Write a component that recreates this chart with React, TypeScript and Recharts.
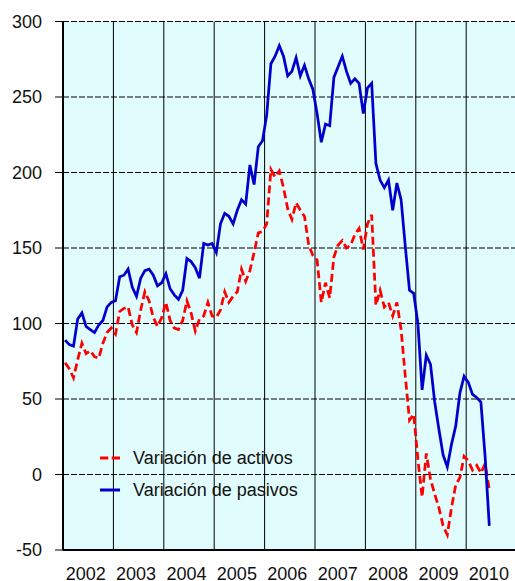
import React from 'react';
import {
  LineChart,
  Line,
  XAxis,
  YAxis,
  CartesianGrid,
  ReferenceLine,
  Legend,
} from 'recharts';

// monthly values, Jan 2002 .. Jun 2010
const activos = [
  74, 70, 64, 76, 87, 80, 82, 78, 77, 87, 94, 97,
  93, 108, 110, 111, 99, 94, 109, 121, 115, 104, 98, 104,
  114, 102, 97, 96, 102, 115, 107, 95, 103, 105, 114, 105,
  104, 109, 121, 114, 118, 121, 136, 128, 135, 147, 160, 161,
  166, 202, 197, 201, 190, 176, 169, 180, 175, 171, 152, 145,
  142, 114, 127, 117, 144, 152, 155, 150, 152, 159, 163, 149,
  166, 172, 112, 122, 111, 114, 105, 114, 96, 65, 36, 40,
  10, -15, 14, -3, -13, -22, -34, -40, -22, -7, -2, 12,
  9, 3, 6, 1, 7, -10,
];

const pasivos = [
  89, 86, 85, 103, 107, 98, 96, 94, 99, 102, 111, 114,
  115, 131, 132, 136, 124, 118, 130, 135, 136, 132, 125, 127,
  133, 123, 119, 116, 122, 143, 141, 137, 130, 153, 152, 153,
  147, 166, 173, 171, 166, 175, 182, 179, 205, 192, 217, 221,
  238, 272, 277, 284, 277, 264, 267, 276, 264, 271, 262, 255,
  239, 220, 232, 231, 263, 270, 277, 267, 259, 262, 259, 239,
  256, 259, 206, 195, 190, 195, 175, 193, 182, 151, 122, 120,
  100, 56, 79, 73, 48, 30, 13, 5, 20, 32, 54, 65,
  61, 53, 51, 48, 12, -34,
];

const years = ['2002', '2003', '2004', '2005', '2006', '2007', '2008', '2009', '2010'];
const yTicks = [-50, 0, 50, 100, 150, 200, 250, 300];

const series = [
  { key: 'activos', name: 'Variación de activos', color: '#ff0000', dash: '8 4' },
  { key: 'pasivos', name: 'Variación de pasivos', color: '#0000cc', dash: undefined },
];

const data = activos.map((a, i) => ({ m: i + 0.5, activos: a, pasivos: pasivos[i] }));
const yearStarts = years.slice(1).map((_, k) => (k + 1) * 12);
const yearTicks = years.map((_, k) => k * 12 + 5.4);

const FONT = '"Liberation Sans", Arial, sans-serif';

function LegendBox() {
  return (
    <div style={{ fontFamily: FONT, fontSize: 18, color: '#111' }}>
      {series.map((s) => (
        <div key={s.key} style={{ display: 'flex', alignItems: 'center', height: 32 }}>
          <svg width={20} height={6} style={{ display: 'block' }}>
            <line
              x1={0}
              y1={3}
              x2={20}
              y2={3}
              stroke={s.color}
              strokeWidth={3}
              strokeDasharray={s.dash ? '8.3 3.4' : undefined}
            />
          </svg>
          <span style={{ marginLeft: 13, whiteSpace: 'nowrap' }}>{s.name}</span>
        </div>
      ))}
    </div>
  );
}

export default function App() {
  return (
    <div style={{ position: 'absolute', left: 0, top: 0, width: 515, height: 581, overflow: 'hidden' }}>
      <LineChart
        width={520}
        height={581}
        data={data}
        margin={{ top: 21.5, right: 3.4, left: 0, bottom: 0 }}
        style={{ fontFamily: FONT }}
      >
        <CartesianGrid
          vertical={false}
          stroke="#000"
          strokeDasharray="6 2"
          fill="#e0fcfc"
          fillOpacity={1}
        />
        {yearStarts.map((x) => (
          <ReferenceLine key={x} x={x} stroke="#000" strokeWidth={1} ifOverflow="visible" />
        ))}
        <XAxis
          dataKey="m"
          type="number"
          domain={[0, 108]}
          ticks={yearTicks}
          tickFormatter={(v: number) => years[Math.round((v - 5.4) / 12)]}
          interval={0}
          height={31}
          tickLine={false}
          tickSize={0}
          tickMargin={17}
          axisLine={{ stroke: '#000', strokeWidth: 2 }}
          tick={{ fontSize: 18, fill: '#111' }}
          allowDataOverflow
        />
        <YAxis
          type="number"
          domain={[-50, 300]}
          ticks={yTicks}
          interval={0}
          width={63}
          tickSize={8}
          tickMargin={13}
          axisLine={{ stroke: '#000', strokeWidth: 2 }}
          tickLine={{ stroke: '#000', strokeWidth: 1 }}
          tick={{ fontSize: 18, fill: '#111' }}
          allowDataOverflow
        />
        <Legend
          layout="vertical"
          verticalAlign="middle"
          align="center"
          content={() => <LegendBox />}
          wrapperStyle={{ left: 100, top: 442, width: 'auto' }}
        />
        {series.map((s) => (
          <Line
            key={s.key}
            type="linear"
            dataKey={s.key}
            name={s.name}
            stroke={s.color}
            strokeWidth={2.75}
            strokeDasharray={s.dash}
            dot={false}
            activeDot={false}
            isAnimationActive={false}
          />
        ))}
      </LineChart>
    </div>
  );
}
